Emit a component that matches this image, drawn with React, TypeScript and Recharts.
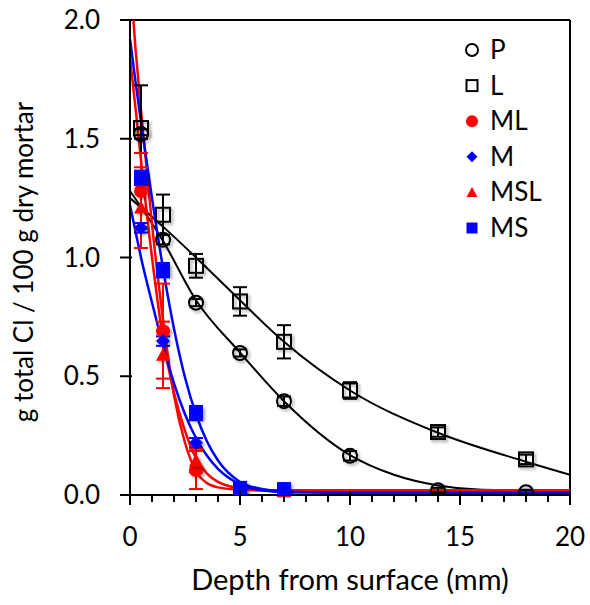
import React from 'react';
import { ComposedChart, Line, Scatter, XAxis, YAxis, ErrorBar, ReferenceLine, Legend, Label } from 'recharts';

const FONT = 'Lato, "Open Sans", sans-serif';

// measured depths (mm)
const depthsLong = [0.5, 1.5, 3, 5, 7, 10, 14, 18];
const depthsShort = [0.5, 1.5, 3, 5, 7];

// measured chloride contents and error bars
const pValues = [1.52, 1.075, 0.81, 0.598, 0.395, 0.165, 0.02, 0.012];
const pErrors = [0.02, 0.02, 0.015, 0.015, 0.02, 0.02, 0.01, 0.01];
const lValues = [1.545, 1.18, 0.965, 0.815, 0.645, 0.44, 0.265, 0.15];
const lErrors = [0.18, 0.085, 0.05, 0.06, 0.07, 0.035, 0.02, 0.02];
const mlValues = [1.28, 0.69, 0.105, 0.01, 0.005];
const mlErrors = [0.16, 0.2, 0.08, 0.01, 0.01];
const mValues = [1.125, 0.648, 0.22, 0.02, 0.01];
const mErrors = [0.02, 0.02, 0.02, 0.01, 0.01];
const mslValues = [1.21, 0.59, 0.145, 0.01, 0.005];
const mslErrors = [0.17, 0.14, 0.05, 0.01, 0.01];
const msValues = [1.335, 0.947, 0.345, 0.03, 0.025];
const msErrors = [0.03, 0.03, 0.03, 0.01, 0.01];

// fitted profiles
const pFitX = [0, 1.5, 3, 5, 7, 10, 12, 14, 16, 17.5, 20];
const pFitY = [1.28, 1.07, 0.82, 0.6, 0.395, 0.168, 0.085, 0.04, 0.022, 0.02, 0.02];
const lFitX = [0, 1.5, 3, 5, 7, 10, 14, 18, 20];
const lFitY = [1.25, 1.13, 1.0, 0.82, 0.645, 0.44, 0.262, 0.14, 0.085];
const mortarFitX = [0, 0.25, 0.5, 1, 1.5, 2, 2.5, 3, 3.5, 4, 5, 6, 7, 10, 15, 20];
const mlFitY = [2.19, 1.88, 1.62, 1.14, 0.74, 0.42, 0.22, 0.1, 0.05, 0.032, 0.022, 0.02, 0.02, 0.02, 0.02, 0.02];
const mslFitY = [1.84, 1.63, 1.41, 1.0, 0.66, 0.43, 0.27, 0.155, 0.09, 0.055, 0.028, 0.02, 0.02, 0.02, 0.02, 0.02];
const msFitY = [1.92, 1.74, 1.57, 1.25, 0.955, 0.7, 0.495, 0.34, 0.225, 0.145, 0.055, 0.025, 0.015, 0.01, 0.01, 0.01];
const mFitY = [1.22, 1.11, 1.0, 0.81, 0.63, 0.47, 0.34, 0.24, 0.165, 0.11, 0.045, 0.02, 0.012, 0.01, 0.01, 0.01];

const xTicks = Array.from({ length: 21 }, (_, i) => i);
const yTicks = [0, 0.5, 1, 1.5, 2];

const pts = (xs: number[], ys: number[]) => xs.map((x, i) => ({ x, y: ys[i] }));
const ptsErr = (xs: number[], ys: number[], es: number[]) => xs.map((x, i) => ({ x, y: ys[i], e: es[i] }));

const series = [
  { name: 'P', kind: 'openCircle', color: '#000', data: ptsErr(depthsLong, pValues, pErrors) },
  { name: 'L', kind: 'openSquare', color: '#000', data: ptsErr(depthsLong, lValues, lErrors) },
  { name: 'ML', kind: 'circle', color: '#ff0000', data: ptsErr(depthsShort, mlValues, mlErrors) },
  { name: 'M', kind: 'diamond', color: '#0000ff', data: ptsErr(depthsShort, mValues, mErrors) },
  { name: 'MSL', kind: 'triangle', color: '#ff0000', data: ptsErr(depthsShort, mslValues, mslErrors) },
  { name: 'MS', kind: 'square', color: '#0000ff', data: ptsErr(depthsShort, msValues, msErrors) },
];

const fits = [
  { key: 'pFit', color: '#000', w: 2, data: pts(pFitX, pFitY) },
  { key: 'lFit', color: '#000', w: 2, data: pts(lFitX, lFitY) },
  { key: 'mlFit', color: '#ff0000', w: 2.5, data: pts(mortarFitX, mlFitY) },
  { key: 'mslFit', color: '#ff0000', w: 2.5, data: pts(mortarFitX, mslFitY) },
  { key: 'mFit', color: '#0000ff', w: 2.5, data: pts(mortarFitX, mFitY) },
  { key: 'msFit', color: '#0000ff', w: 2.5, data: pts(mortarFitX, msFitY) },
];

function Symbol({ kind, color, cx, cy, s, shadow }: any) {
  const f = shadow ? 'url(#mkShadow)' : undefined;
  switch (kind) {
    case 'openCircle':
      return <circle cx={cx} cy={cy} r={s} fill="none" stroke={color} strokeWidth={2} filter={f} />;
    case 'openSquare':
      return <rect x={cx - s} y={cy - s} width={2 * s} height={2 * s} fill="none" stroke={color} strokeWidth={2} filter={f} />;
    case 'circle':
      return <circle cx={cx} cy={cy} r={s} fill={color} filter={f} />;
    case 'diamond':
      return <polygon points={`${cx},${cy - s} ${cx + s},${cy} ${cx},${cy + s} ${cx - s},${cy}`} fill={color} filter={f} />;
    case 'triangle':
      return <polygon points={`${cx},${cy - s} ${cx + s},${cy + s * 0.85} ${cx - s},${cy + s * 0.85}`} fill={color} filter={f} />;
    default:
      return <rect x={cx - s} y={cy - s} width={2 * s} height={2 * s} fill={color} filter={f} />;
  }
}

function XTick(props: any) {
  const { x, y, payload } = props;
  const v = payload.value;
  const major = v % 5 === 0;
  return (
    <g>
      <line x1={x} x2={x} y1={major ? y - 4 : y} y2={major ? y + 10 : y + 7} stroke="#000" strokeWidth={2} />
      {major && (
        <text x={x} y={y + 51} textAnchor="middle" fontSize={26} fontFamily={FONT} fill="#000">
          {v}
        </text>
      )}
    </g>
  );
}

function YTick(props: any) {
  const { x, y, payload } = props;
  return (
    <g>
      <line x1={x - 10} x2={x + 2} y1={y} y2={y} stroke="#000" strokeWidth={2} />
      <text x={x - 30} y={y + 9} textAnchor="end" fontSize={26} fontFamily={FONT} fill="#000">
        {Number(payload.value).toFixed(1)}
      </text>
    </g>
  );
}

function LegendBox() {
  return (
    <svg width={130} height={230} style={{ display: 'block', overflow: 'visible' }}>
      {series.map((s, i) => {
        const cy = 20 + i * 35.6;
        return (
          <g key={s.name}>
            <Symbol kind={s.kind} color={s.color} cx={14} cy={cy} s={s.kind === 'openCircle' || s.kind === 'circle' ? 6 : 5.5} />
            <text x={32} y={cy + 9} fontSize={26} fontFamily={FONT} fill="#000">
              {s.name}
            </text>
          </g>
        );
      })}
    </svg>
  );
}

export default function App() {
  return (
    <div style={{ position: 'absolute', left: 0, top: 0, width: 590, height: 605, background: '#fff' }}>
      <ComposedChart width={590} height={605} margin={{ top: 20, right: 20, bottom: 0, left: 0 }}>
        <defs>
          <filter id="mkShadow" x="-50%" y="-50%" width="200%" height="200%">
            <feDropShadow dx={2} dy={2} stdDeviation={1.5} floodColor="#000" floodOpacity={0.35} />
          </filter>
        </defs>
        <XAxis
          type="number"
          dataKey="x"
          domain={[0, 20]}
          ticks={xTicks}
          interval={0}
          height={110}
          tickSize={0}
          tickMargin={0}
          tick={<XTick />}
          axisLine={{ stroke: '#000', strokeWidth: 2 }}
          tickLine={false}
        >
          <Label
            content={() => (
              <text x={350} y={590} textAnchor="middle" fontSize={29} fontFamily={FONT} fill="#000">
                Depth from surface (mm)
              </text>
            )}
          />
        </XAxis>
        <YAxis
          type="number"
          dataKey="y"
          domain={[0, 2]}
          allowDataOverflow
          ticks={yTicks}
          interval={0}
          width={130}
          tickSize={0}
          tickMargin={0}
          tick={<YTick />}
          axisLine={{ stroke: '#000', strokeWidth: 2 }}
          tickLine={false}
        >
          <Label
            content={() => (
              <text x={33} y={262} transform="rotate(-90 33 262)" textAnchor="middle" fontSize={26} fontFamily={FONT} fill="#000">
                g total Cl / 100 g dry mortar
              </text>
            )}
          />
        </YAxis>
        <ReferenceLine y={2} stroke="#000" strokeWidth={2} />
        <ReferenceLine x={20} stroke="#000" strokeWidth={2} />
        {fits.map((f) => (
          <Line
            key={f.key}
            data={f.data}
            dataKey="y"
            type="monotone"
            stroke={f.color}
            strokeWidth={f.w}
            dot={false}
            activeDot={false}
            legendType="none"
            isAnimationActive={false}
          />
        ))}
        {series.map((s) => (
          <Scatter
            key={s.name}
            name={s.name}
            data={s.data}
            dataKey="y"
            isAnimationActive={false}
            shape={(p: any) => <Symbol kind={s.kind} color={s.color} cx={p.cx} cy={p.cy} s={7} shadow />}
          >
            <ErrorBar dataKey="e" direction="y" width={7} stroke={s.color} strokeWidth={2} isAnimationActive={false} />
          </Scatter>
        ))}
        <Legend
          layout="vertical"
          align="center"
          verticalAlign="middle"
          wrapperStyle={{ left: 458, top: 30, width: 130 }}
          content={() => <LegendBox />}
        />
      </ComposedChart>
    </div>
  );
}
